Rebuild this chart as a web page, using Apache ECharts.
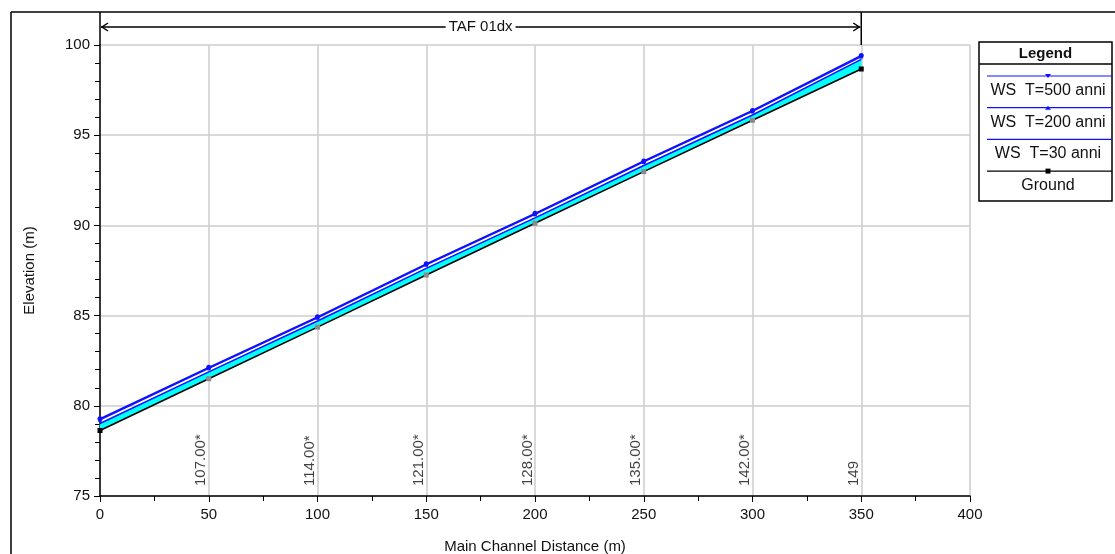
<!DOCTYPE html>
<html>
<head>
<meta charset="utf-8">
<script src="https://cdn.jsdelivr.net/npm/echarts@6/dist/echarts.min.js"></script>
<style>
  html, body { margin: 0; padding: 0; background: #fff; }
  #profile { width: 1115px; height: 554px; }
</style>
</head>
<body>
<div id="profile"></div>
<script>
// main channel distance (m) of each cross section
var distance = [0, 50, 100, 150, 200, 250, 300, 350];
// river stations written above the x axis (first one has no label)
var stations = ["", "107.00*", "114.00*", "121.00*", "128.00*", "135.00*", "142.00*", "149"];
var ground = [78.63, 81.50, 84.36, 87.25, 90.12, 92.98, 95.83, 98.67];
var ws30 = [79.02, 81.88, 84.70, 87.62, 90.42, 93.32, 96.12, 99.20];
var ws200 = [79.22, 82.08, 84.88, 87.82, 90.62, 93.52, 96.32, 99.36];
var ws500 = [79.28, 82.13, 84.93, 87.87, 90.67, 93.57, 96.37, 99.42];
var reachName = "TAF 01dx";
var legendNames = ["WS  T=500 anni", "WS  T=200 anni", "WS  T=30 anni", "Ground"];

var font = "Liberation Sans, Arial, sans-serif";
var blue = "#1010ff";

function pairs(ys) {
  return distance.map(function (d, i) { return [d, ys[i]]; });
}

var chart = echarts.init(document.getElementById("profile"));
var last = distance.length - 1;

var option = {
  animation: false,
  backgroundColor: "#fff",
  textStyle: { fontFamily: font },
  grid: { left: 100, right: 145, top: 45, bottom: 58, outerBoundsMode: "none", containLabel: false },
  xAxis: {
    type: "value",
    min: 0, max: 400, interval: 50,
    name: "Main Channel Distance (m)",
    nameLocation: "middle",
    nameGap: 43,
    nameTextStyle: { fontSize: 15, color: "#111", fontFamily: font },
    axisLine: { lineStyle: { color: "#000", width: 1.5 } },
    axisTick: { length: 6, lineStyle: { color: "#000" } },
    minorTick: { show: true, splitNumber: 2, length: 5, lineStyle: { color: "#000" } },
    axisLabel: { fontSize: 15, color: "#111", margin: 11, fontFamily: font },
    splitLine: { show: true, lineStyle: { color: "#cdcdcd", width: 1.5 } }
  },
  yAxis: {
    type: "value",
    min: 75, max: 100, interval: 5,
    name: "Elevation (m)",
    nameLocation: "middle",
    nameGap: 63,
    nameTextStyle: { fontSize: 15, color: "#111", fontFamily: font },
    axisLine: { show: true, lineStyle: { color: "#000", width: 1.5 } },
    axisTick: { show: true, length: 6, lineStyle: { color: "#000" } },
    minorTick: { show: true, splitNumber: 5, length: 5, lineStyle: { color: "#000" } },
    axisLabel: { fontSize: 15, color: "#111", margin: 10, fontFamily: font },
    splitLine: { show: true, lineStyle: { color: "#cdcdcd", width: 1.5 } }
  },
  series: [
    {
      // cyan water between ground and WS T=30
      name: "water",
      type: "custom",
      data: pairs(ground),
      silent: true,
      z: 2,
      renderItem: function (params, api) {
        var i = params.dataIndex;
        if (i >= last) return;
        var pts = [
          api.coord([distance[i], ws30[i]]),
          api.coord([distance[i + 1], ws30[i + 1]]),
          api.coord([distance[i + 1], ground[i + 1]]),
          api.coord([distance[i], ground[i]])
        ];
        return { type: "polygon", shape: { points: pts }, style: { fill: "#00ffff", stroke: "#00ffff", lineWidth: 0.5 } };
      }
    },
    {
      name: legendNames[2],
      type: "line",
      data: pairs(ws30),
      symbol: "none",
      lineStyle: { color: blue, width: 1.5 },
      z: 3
    },
    {
      name: legendNames[3],
      type: "line",
      data: pairs(ground),
      symbol: "rect",
      symbolSize: 5,
      lineStyle: { color: "#000", width: 1.5 },
      itemStyle: {
        color: function (p) { return (p.dataIndex === 0 || p.dataIndex === last) ? "#000" : "#8a8a8a"; }
      },
      z: 4
    },
    {
      name: legendNames[1],
      type: "line",
      data: pairs(ws200),
      symbol: "triangle",
      symbolSize: 4,
      lineStyle: { color: blue, width: 1.5 },
      itemStyle: { color: blue },
      z: 5
    },
    {
      name: legendNames[0],
      type: "line",
      data: pairs(ws500),
      symbol: "circle",
      symbolSize: 5,
      lineStyle: { color: blue, width: 1.5 },
      itemStyle: { color: blue },
      z: 6
    },
    {
      name: "stations",
      type: "scatter",
      data: distance.map(function (d) { return [d, 75]; }),
      symbolSize: 0,
      silent: true,
      label: {
        show: true,
        position: "top",
        distance: 10,
        rotate: 90,
        align: "left",
        verticalAlign: "bottom",
        fontSize: 15,
        color: "#111",
        fontFamily: font,
        formatter: function (p) { return stations[p.dataIndex]; }
      },
      z: 7
    }
  ]
};

chart.setOption(option);

// frame, reach arrow and legend box
var x0 = chart.convertToPixel({ xAxisIndex: 0 }, distance[0]);
var x1 = chart.convertToPixel({ xAxisIndex: 0 }, distance[last]);
var yTop = chart.convertToPixel({ yAxisIndex: 0 }, 100);
var black = { stroke: "#000", lineWidth: 1.5 };
var g = [
  { type: "line", shape: { x1: 11, y1: 12, x2: 1115, y2: 12 }, style: black },
  { type: "line", shape: { x1: 11, y1: 12, x2: 11, y2: 554 }, style: black },
  { type: "line", shape: { x1: x0, y1: 12, x2: x0, y2: yTop }, style: black },
  { type: "line", shape: { x1: x1, y1: 12, x2: x1, y2: yTop }, style: black },
  { type: "line", shape: { x1: x0 + 1, y1: 27, x2: x1 - 1, y2: 27 }, style: black },
  { type: "polyline", shape: { points: [[x0 + 8, 23], [x0 + 2, 27], [x0 + 8, 31]] }, style: { stroke: "#000", lineWidth: 1.5, fill: null } },
  { type: "polyline", shape: { points: [[x1 - 8, 23], [x1 - 2, 27], [x1 - 8, 31]] }, style: { stroke: "#000", lineWidth: 1.5, fill: null } },
  {
    type: "text", x: (x0 + x1) / 2, y: 27,
    style: { text: reachName, fontSize: 15, fontFamily: font, fill: "#111", align: "center", verticalAlign: "middle", backgroundColor: "#fff", padding: [0, 3] }
  }
];

// legend table
var lx = 979, lw = 133, ly = 42;
g.push({ type: "rect", shape: { x: lx, y: ly, width: lw, height: 159 }, style: { stroke: "#000", lineWidth: 1.5, fill: "#fff" } });
g.push({ type: "text", x: lx + lw / 2, y: 54, style: { text: "Legend", fontSize: 15, fontWeight: "bold", fontFamily: font, fill: "#111", align: "center", verticalAlign: "middle" } });
g.push({ type: "line", shape: { x1: lx, y1: 64, x2: lx + lw, y2: 64 }, style: black });
var lineColors = [blue, blue, blue, "#000"];
var markers = ["down", "up", "", "rect"];
legendNames.forEach(function (n, i) {
  var yl = 76 + i * 31.7;
  g.push({ type: "line", shape: { x1: 987, y1: yl, x2: lx + lw, y2: yl }, style: { stroke: lineColors[i], lineWidth: 1.2 } });
  var cx = 1048;
  if (markers[i] === "down") {
    g.push({ type: "polygon", shape: { points: [[cx - 3, yl - 2], [cx + 3, yl - 2], [cx, yl + 2]] }, style: { fill: blue } });
  } else if (markers[i] === "up") {
    g.push({ type: "polygon", shape: { points: [[cx - 3, yl + 2], [cx + 3, yl + 2], [cx, yl - 2]] }, style: { fill: blue } });
  } else if (markers[i] === "rect") {
    g.push({ type: "rect", shape: { x: cx - 2.5, y: yl - 2.5, width: 5, height: 5 }, style: { fill: "#000" } });
  }
  g.push({ type: "text", x: cx, y: yl + 14.5, style: { text: n, fontSize: 16, fontFamily: font, fill: "#111", align: "center", verticalAlign: "middle" } });
});

chart.setOption({ graphic: g });
</script>
</body>
</html>
